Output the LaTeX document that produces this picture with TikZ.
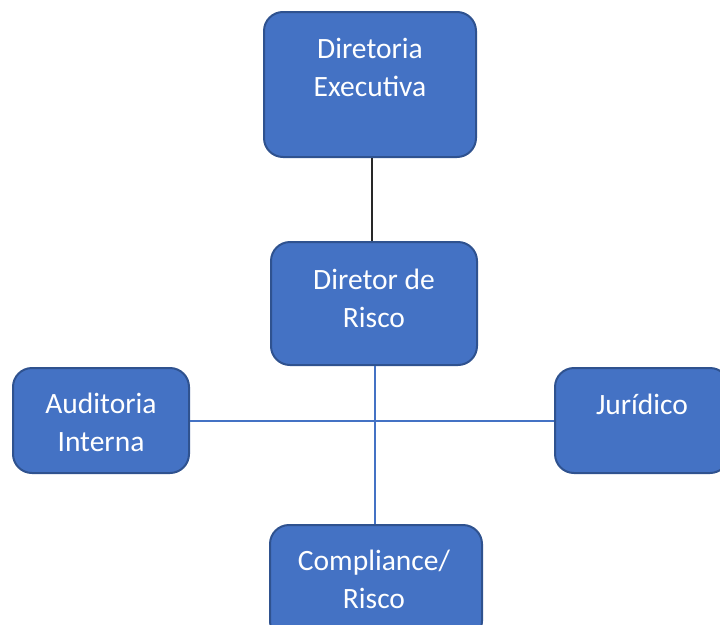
\documentclass[tikz,border=0pt]{standalone}
\usepackage{fontspec}
\setmainfont{Carlito}
\usepackage{xcolor}
\definecolor{boxfill}{RGB}{68,114,196}
\definecolor{boxline}{RGB}{47,82,143}
\definecolor{linkblue}{RGB}{68,114,196}
\definecolor{linkdark}{RGB}{40,40,40}

\begin{document}
\begin{tikzpicture}[
    x=1pt, y=-1pt,
    orgbox/.style={draw=boxline, fill=boxfill, line width=2pt, rounded corners=19pt},
    orgtext/.style={text=white, font=\fontsize{29.5}{38}\selectfont, align=center, inner sep=0pt},
    link/.style={linkblue, line width=2pt}
  ]
  \clip (0,0) rectangle (720,624);

  % the five boxes
  \node[orgbox, minimum width=212pt, minimum height=145pt] (dirExec) at (370,84.5) {};
  \node[orgbox, minimum width=206pt, minimum height=123pt] (dirRisco) at (374,303.5) {};
  \node[orgbox, minimum width=176pt, minimum height=105pt] (auditoria) at (101,420.5) {};
  \node[orgbox, minimum width=174pt, minimum height=105pt] (juridico) at (642,420.5) {};
  \node[orgbox, minimum width=212pt, minimum height=115pt] (compliance) at (376,582.5) {};

  % their texts
  \node[orgtext] (dirExecTxt) at (370,67) {Diretoria\\Executiva};
  \node[orgtext] (dirRiscoTxt) at (374,298) {Diretor de\\Risco};
  \node[orgtext] (auditoriaTxt) at (101,422) {Auditoria\\Interna};
  \node[orgtext] (juridicoTxt) at (642,404) {Jurídico};
  \node[orgtext] (complianceTxt) at (374,579) {Compliance/\\Risco};

  % connectors
  \draw[linkdark, line width=1.5pt] (dirExec.south) ++(2,0) coordinate (topLink)
    -- (topLink |- dirRisco.north);
  \draw[link] (auditoria.east) -- (juridico.west);
  \draw[link] (dirRisco.south) ++(1,0) coordinate (midLink)
    -- (midLink |- compliance.north);
\end{tikzpicture}
\end{document}
